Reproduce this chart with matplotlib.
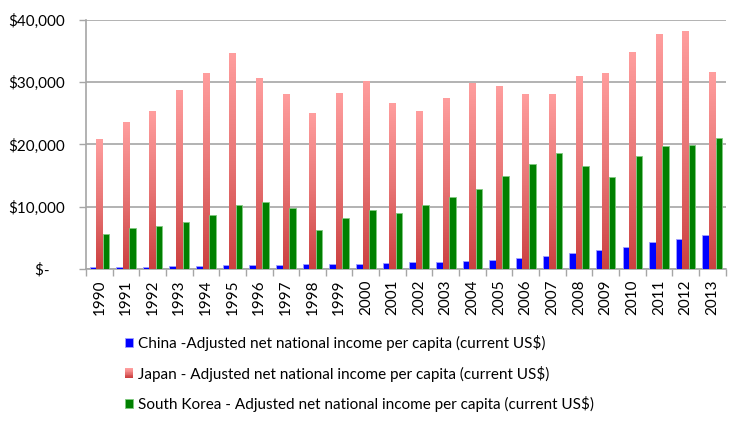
import matplotlib
matplotlib.use("Agg")
import matplotlib.pyplot as plt
import numpy as np
from matplotlib.colors import LinearSegmentedColormap
from matplotlib.legend_handler import HandlerBase
from matplotlib.patches import Rectangle
from matplotlib.ticker import FuncFormatter

years = list(range(1990, 2014))
china = [300, 320, 350, 370, 430, 520, 590, 620, 700, 750, 800, 900,
         1000, 1100, 1250, 1400, 1670, 2100, 2600, 3050, 3500, 4250, 4800, 5400]
japan = [20900, 23600, 25350, 28700, 31500, 34700, 30650, 28100, 25000, 28200, 30200, 26600,
         25350, 27400, 29850, 29400, 28100, 28100, 31000, 31500, 34850, 37700, 38200, 31600]
korea = [5500, 6500, 6900, 7500, 8600, 10200, 10800, 9750, 6200, 8100, 9400, 8950,
         10300, 11500, 12850, 14900, 16800, 18600, 16500, 14800, 18100, 19700, 19950, 21100]
labels = [
    "China -Adjusted net national income per capita (current US$)",
    "Japan - Adjusted net national income per capita (current US$)",
    "South Korea - Adjusted net national income per capita (current US$)",
]

plt.rcParams["font.family"] = ["Lato", "DejaVu Sans"]
GRID = "#A6A6A6"
jcmap = LinearSegmentedColormap.from_list("jp", ["#FF9E9E", "#E87575", "#CC4040"])


class HandlerGradient(HandlerBase):
    # legend key for the Japan series: a small vertical gradient square
    def create_artists(self, legend, orig_handle, xdescent, ydescent,
                       width, height, fontsize, trans):
        n = 12
        out = []
        for i in range(n):
            out.append(Rectangle((-xdescent, -ydescent + height * i / n), width, height / n + 0.2,
                                 facecolor=jcmap(1 - i / (n - 1)), edgecolor="none",
                                 transform=trans))
        return out


fig = plt.figure(figsize=(7.33, 4.25), dpi=100)
ax = fig.add_axes([0.1173, 0.3678, 0.8726, 0.5851])

x = np.arange(len(years))
w = 0.245
cbars = ax.bar(x - w, china, w, color="#0000FF", edgecolor="#A0A0FF", linewidth=0.6, zorder=3)
jbars = ax.bar(x, japan, w, color="none", edgecolor="none", zorder=3)
grad = np.linspace(0, 1, 256).reshape(-1, 1)
for b in jbars:
    ax.imshow(grad, cmap=jcmap, aspect="auto", zorder=3,
              extent=[b.get_x(), b.get_x() + b.get_width(), 0, b.get_height()])
kbars = ax.bar(x + w, korea, w, color="#008000", edgecolor="#7FC97F", linewidth=0.6, zorder=3)

ax.set_xlim(-0.5, len(years) - 0.5)
ax.set_ylim(0, 40000)

ax.set_xticks(x, [str(y) for y in years], rotation=90)
ax.set_xticks(np.arange(-0.5, len(years), 1), minor=True)
ax.tick_params(axis="x", which="major", length=0, pad=8, labelsize=11, colors="black")
ax.tick_params(axis="x", which="minor", length=5, width=1, color=GRID)

ax.set_yticks([0, 10000, 20000, 30000, 40000])
ax.yaxis.set_major_formatter(FuncFormatter(lambda v, p: "$-    " if v == 0 else f"${v:,.0f}"))
ax.tick_params(axis="y", length=5, width=1, color=GRID, pad=10, labelsize=11)

ax.yaxis.grid(True, color=GRID, linewidth=1.2)
ax.set_axisbelow(True)
for s in ["top", "right"]:
    ax.spines[s].set_visible(False)
for s in ["left", "bottom"]:
    ax.spines[s].set_color(GRID)
    ax.spines[s].set_linewidth(1.2)

handles = [cbars, jbars, kbars]
fig.legend(handles, labels, loc="upper left", bbox_to_anchor=(125 / 733, 1 - 335 / 425),
           frameon=False, fontsize=11, handlelength=0.52, handleheight=0.52,
           handletextpad=0.3, labelspacing=0.95, borderpad=0, borderaxespad=0,
           handler_map={jbars: HandlerGradient()})

fig.savefig("out.png", dpi=100)
